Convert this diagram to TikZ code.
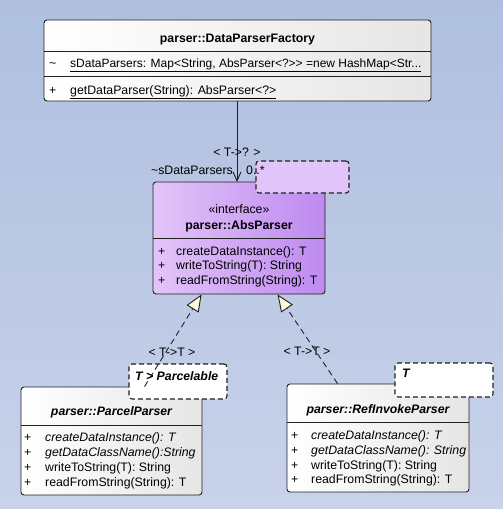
\documentclass[tikz,border=0pt]{standalone}
\usepackage{fontspec}
\setmainfont{Liberation Sans}
\usetikzlibrary{arrows.meta,calc}
\definecolor{bgtop}{HTML}{AFBFDF}
\definecolor{bgbot}{HTML}{C8D2EA}
\definecolor{purpL}{HTML}{E2C4F8}
\definecolor{purpR}{HTML}{BE8AF0}
\definecolor{lav}{HTML}{E0C4FA}
\definecolor{cream}{HTML}{FFF6DC}
\definecolor{lnc}{HTML}{202020}
\newcommand{\fs}{\fontsize{12.3}{14}\selectfont}
\newcommand{\fsa}{\fontsize{12}{14}\selectfont}
\begin{document}
\begin{tikzpicture}[x=1pt,y=-1pt,
  cls/.style={draw=lnc, line width=0.9pt, rounded corners=3pt, inner sep=0pt, left color=white, right color=black!10},
  tmpl/.style={draw=lnc, line width=1.1pt, dash pattern=on 5pt off 3pt, rounded corners=3pt, inner sep=0pt},
  txt/.style={anchor=base west, inner sep=0pt, font=\fs},
  ttl/.style={anchor=base, inner sep=0pt, font=\fs\bfseries},
  sep/.style={draw=lnc, line width=0.6pt},
  real/.style={draw=lnc, line width=0.9pt, dash pattern=on 6pt off 4pt, -{Triangle[fill=cream, length=17pt, width=14pt]}},
  assoc/.style={draw=lnc, line width=0.9pt, -{Straight Barb[length=9pt,width=8pt]}},
  lbl/.style={anchor=base, inner sep=0pt, font=\fs}
]
\useasboundingbox (0,0) rectangle (503,509);
\shade[top color=bgtop, bottom color=bgbot] (0,0) rectangle (503,509);

% class boxes
\node[cls, minimum width=387pt, minimum height=81pt] (fac) at (237.5,60.5) {};
\node[cls, left color=purpL, right color=purpR, minimum width=172pt, minimum height=112pt] (abs) at (239,238) {};
\node[cls, minimum width=181pt, minimum height=108pt] (pp) at (111.5,441) {};
\node[cls, minimum width=182pt, minimum height=108pt] (ri) at (378,438) {};

% separators
\draw[sep] (fac.west |- 0,51) -- (fac.east |- 0,51);
\draw[sep] (fac.west |- 0,76) -- (fac.east |- 0,76);
\draw[sep] (abs.west |- 0,238) -- (abs.east |- 0,238);
\draw[sep] (pp.west |- 0,425) -- (pp.east |- 0,425);
\draw[sep] (ri.west |- 0,422) -- (ri.east |- 0,422);

% template boxes
\node[tmpl, fill=lav, minimum width=93pt, minimum height=32pt] (abst) at (302.5,177) {};
\node[tmpl, fill=white, minimum width=98pt, minimum height=35pt] (ppt) at (178,381.5) {};
\node[tmpl, fill=white, minimum width=98pt, minimum height=34pt] (rit) at (444,380) {};

% factory texts
\node[ttl] (facn) at (237.5,42) {parser::DataParserFactory};
\node[txt] (faca1) at (49,67) {\textasciitilde};
\node[txt, font=\fsa] (faca2) at (70,67) {\underline{sDataParsers: Map<String, AbsParser<?>{}> =new HashMap<Str...}};
\node[txt] (facm1) at (49,94) {+};
\node[txt] (facm2) at (70,94) {\underline{getDataParser(String): AbsParser<?>}};

% AbsParser texts
\node[lbl] (abss) at (239,213) {«interface»};
\node[ttl] (absn) at (239,229) {parser::AbsParser};
\node[txt] (absp1) at (158,255) {+};
\node[txt] (absm1) at (176,255) {createDataInstance(): T};
\node[txt] (absp2) at (158,269) {+};
\node[txt] (absm2) at (176,269) {writeToString(T): String};
\node[txt] (absp3) at (158,284) {+};
\node[txt] (absm3) at (176,284) {readFromString(String): T};

% ParcelParser texts
\node[ttl, font=\fs\bfseries\itshape] (ppn) at (111.5,415) {parser::ParcelParser};
\node[txt] (ppp1) at (24,441) {+};
\node[txt] (ppm1) at (45,441) {\itshape createDataInstance(): T};
\node[txt] (ppp2) at (24,456) {+};
\node[txt] (ppm2) at (45,456) {\itshape getDataClassName():String};
\node[txt] (ppp3) at (24,471) {+};
\node[txt] (ppm3) at (45,471) {writeToString(T): String};
\node[txt] (ppp4) at (24,486) {+};
\node[txt] (ppm4) at (45,486) {readFromString(String): T};
\node[txt, font=\fs\bfseries\itshape] (pptt) at (135,380) {T > Parcelable};

% RefInvokeParser texts
\node[ttl, font=\fs\bfseries\itshape] (rin) at (378,413) {parser::RefInvokeParser};
\node[txt] (rip1) at (291,439) {+};
\node[txt] (rim1) at (311,439) {\itshape createDataInstance(): T};
\node[txt] (rip2) at (291,454) {+};
\node[txt] (rim2) at (311,454) {\itshape getDataClassName(): String};
\node[txt] (rip3) at (291,469) {+};
\node[txt] (rim3) at (311,469) {writeToString(T): String};
\node[txt] (rip4) at (291,483) {+};
\node[txt] (rim4) at (311,483) {readFromString(String): T};
\node[txt, font=\fs\bfseries\itshape] (ritt) at (402,377) {T};

% connectors
\coordinate (facbot) at (237,101);
\coordinate (abstop) at (237,182);
\draw[assoc] (facbot) -- (abstop);
\coordinate (ppstart) at ($(pp.north west)+(124,0)$);
\coordinate (absbl) at ($(abs.south west)+(49,0)$);
\draw[real] (ppstart) -- (absbl);
\coordinate (ristart) at ($(ri.north west)+(51,0)$);
\coordinate (absbr) at ($(abs.south west)+(125,0)$);
\draw[real] (ristart) -- (absbr);

% connector labels
\node[lbl] (l1) at (237,156) {< T->? >};
\node[txt, anchor=base east] (l2) at (233,174) {\textasciitilde sDataParsers};
\node[txt] (l3) at (246,174) {0..*};
\node[lbl] (l4) at (172,356) {< T->T >};
\node[lbl] (l5) at (307,355) {< T->T >};
\end{tikzpicture}
\end{document}
